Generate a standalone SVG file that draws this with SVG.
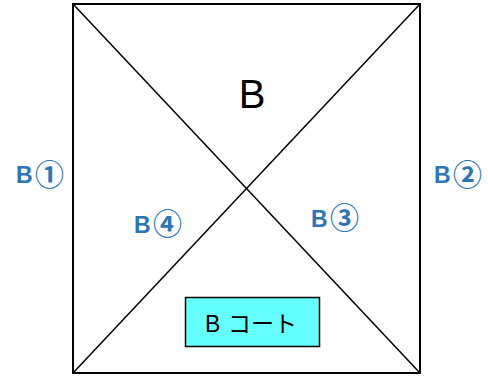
<svg xmlns="http://www.w3.org/2000/svg" width="488" height="376" viewBox="0 0 488 376">
<style>
.lb{font-family:"Liberation Sans",sans-serif;font-weight:bold;font-size:23px;fill:#2e75b6}
.lc{font-family:"Noto Sans CJK JP",sans-serif;font-weight:bold;font-size:29px;fill:#2e75b6}
.ln{stroke:#000;stroke-width:1.5;fill:none}
</style>
<rect width="488" height="376" fill="#fff"/>
<g id="court">
<rect x="73" y="4" width="347" height="369" fill="#fff" stroke="#000" stroke-width="2"/>
</g>
<g id="connectors">
<line class="ln" x1="73" y1="4" x2="420" y2="373"/>
<line class="ln" x1="420" y1="4" x2="73" y2="373"/>
</g>
<g id="title"><text x="252" y="108" text-anchor="middle" font-family="'Liberation Sans',sans-serif" font-size="40" fill="#000">B</text></g>
<g id="b1"><text class="lb" x="16" y="183">B</text><text class="lc" x="35" y="186">①</text></g>
<g id="b2"><text class="lb" x="434" y="183">B</text><text class="lc" x="453" y="186">②</text></g>
<g id="b3"><text class="lb" x="311" y="227">B</text><text class="lc" x="330" y="229">③</text></g>
<g id="b4"><text class="lb" x="134" y="233">B</text><text class="lc" x="153" y="235">④</text></g>
<g id="bcourt">
<rect x="185.5" y="297.5" width="134" height="49" fill="#66ffff" stroke="#000" stroke-width="1.5"/>
<text x="205" y="332" font-family="'Liberation Sans',sans-serif" font-size="23" fill="#000">B</text>
<text x="228" y="332" font-family="'Noto Sans CJK JP',sans-serif" font-size="23" fill="#000">コート</text>
</g>
</svg>
